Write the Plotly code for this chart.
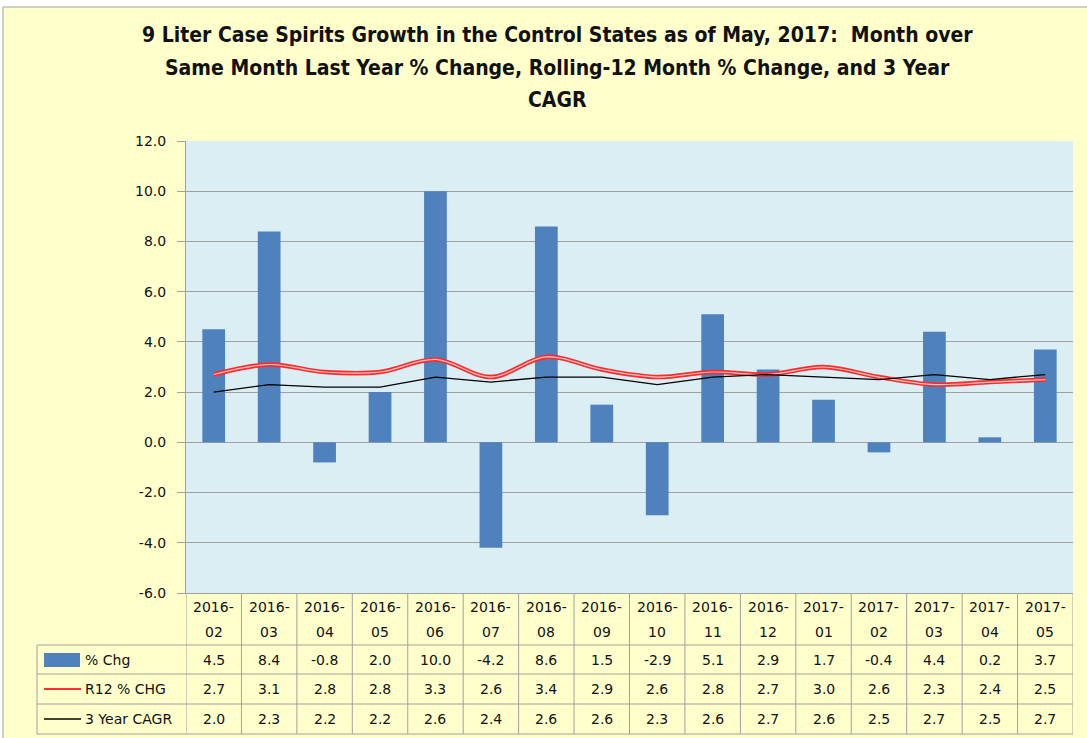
import plotly.graph_objects as go

# ---- data ----
months = ["2016-02", "2016-03", "2016-04", "2016-05", "2016-06", "2016-07", "2016-08", "2016-09",
          "2016-10", "2016-11", "2016-12", "2017-01", "2017-02", "2017-03", "2017-04", "2017-05"]
pct_chg = [4.5, 8.4, -0.8, 2.0, 10.0, -4.2, 8.6, 1.5, -2.9, 5.1, 2.9, 1.7, -0.4, 4.4, 0.2, 3.7]
r12_chg = [2.7, 3.1, 2.8, 2.8, 3.3, 2.6, 3.4, 2.9, 2.6, 2.8, 2.7, 3.0, 2.6, 2.3, 2.4, 2.5]
cagr_3y = [2.0, 2.3, 2.2, 2.2, 2.6, 2.4, 2.6, 2.6, 2.3, 2.6, 2.7, 2.6, 2.5, 2.7, 2.5, 2.7]
y_ticks = [-6.0, -4.0, -2.0, 0.0, 2.0, 4.0, 6.0, 8.0, 10.0, 12.0]
y_tick_labels = ["-6.0", "-4.0", "-2.0", "0.0", "2.0", "4.0", "6.0", "8.0", "10.0", "12.0"]
series_names = ["% Chg", "R12 % CHG", "3 Year CAGR"]
title_lines = ["9 Liter Case Spirits Growth in the Control States as of May, 2017:  Month over",
               "Same Month Last Year % Change, Rolling-12 Month % Change, and 3 Year",
               "CAGR"]

W, H = 1087, 738
def px(x):
    return x / W
def py(y):
    return 1 - y / H

BAR = "#4F81BD"
GRID = "#A0A0A0"
YEL = "#FFFFCC"
PLOTBG = "#DBEEF4"
TXT = "#111111"
FONT = "DejaVu Sans, Verdana, sans-serif"
TFONT = "Liberation Sans Narrow, DejaVu Sans Condensed, Arial Narrow, sans-serif"

fig = go.Figure()
fig.add_trace(go.Bar(x=months, y=pct_chg, marker_color=BAR, marker_line_width=0, name=series_names[0]))
fig.add_trace(go.Scatter(x=months, y=r12_chg, mode="lines", line=dict(color="#FF2A2A", width=4.5, shape="spline", smoothing=1), name=series_names[1]))
fig.add_trace(go.Scatter(x=months, y=r12_chg, mode="lines", line=dict(color="#FFC8C8", width=1.2, shape="spline", smoothing=1), showlegend=False))
fig.add_trace(go.Scatter(x=months, y=cagr_3y, mode="lines", line=dict(color="#000000", width=1.3), name=series_names[2]))

x_left, x_right = 186, 1073
y_top, y_bot = 141, 593

fig.update_layout(
    template="none",
    width=W, height=H, autosize=False,
    margin=dict(l=0, r=0, t=0, b=0, pad=0),
    paper_bgcolor=YEL, plot_bgcolor=PLOTBG,
    showlegend=False, bargap=0.59,
    font=dict(family=FONT, size=14, color=TXT),
    xaxis=dict(type="category", domain=[px(x_left), px(x_right)], range=[-0.5, len(months) - 0.5],
               showticklabels=False, ticks="", showgrid=False, zeroline=False, automargin=False,
               showline=True, linecolor=GRID, linewidth=1, fixedrange=True),
    yaxis=dict(domain=[py(y_bot), py(y_top)], range=[-6, 12],
               tickmode="array", tickvals=y_ticks, ticktext=y_tick_labels, automargin=False,
               showgrid=True, gridcolor=GRID, gridwidth=1, zeroline=False,
               showline=True, linecolor=GRID, linewidth=1,
               ticks="outside", ticklen=8, tickcolor=GRID, tickwidth=1, ticklabelstandoff=8,
               tickfont=dict(family=FONT, size=14, color=TXT), fixedrange=True),
)

shapes = []
anns = []

# white margins and chart-area border
shapes.append(dict(type="rect", xref="paper", yref="paper", x0=0, x1=1, y0=py(7), y1=1, fillcolor="white", line_width=0))
shapes.append(dict(type="rect", xref="paper", yref="paper", x0=0, x1=px(3), y0=0, y1=1, fillcolor="white", line_width=0))
shapes.append(dict(type="line", xref="paper", yref="paper", x0=px(3), x1=1, y0=py(7), y1=py(7), line=dict(color="#A0A0A0", width=1)))
shapes.append(dict(type="line", xref="paper", yref="paper", x0=px(3), x1=px(3), y0=py(7), y1=0, line=dict(color="#A0A0A0", width=1)))

# title
for i, (t, yy) in enumerate(zip(title_lines, [35, 68, 100])):
    anns.append(dict(text="<b>" + t + "</b>", xref="paper", yref="paper", x=px(557), y=py(yy),
                     xanchor="center", yanchor="middle", showarrow=False,
                     font=dict(family=TFONT, size=21, color=TXT)))

# data table
tbl_left = 37
row_lines = [645, 674, 704, 734]
hdr_top = 593
for i in range(len(months) + 1):
    shapes.append(dict(type="line", xref="x", yref="paper", x0=i - 0.5, x1=i - 0.5,
                       y0=py(hdr_top), y1=py(row_lines[-1]), line=dict(color=GRID, width=1)))
for yl in row_lines:
    shapes.append(dict(type="line", xref="paper", yref="paper", x0=px(tbl_left), x1=px(x_right),
                       y0=py(yl), y1=py(yl), line=dict(color=GRID, width=1)))
shapes.append(dict(type="line", xref="paper", yref="paper", x0=px(tbl_left), x1=px(tbl_left),
                   y0=py(row_lines[0]), y1=py(row_lines[-1]), line=dict(color=GRID, width=1)))

for m in months:
    a, b = m.split("-")
    anns.append(dict(text=a + "-", xref="x", yref="paper", x=m, y=py(607), showarrow=False,
                     xanchor="center", yanchor="middle", font=dict(family=FONT, size=14, color=TXT)))
    anns.append(dict(text=b, xref="x", yref="paper", x=m, y=py(632), showarrow=False,
                     xanchor="center", yanchor="middle", font=dict(family=FONT, size=14, color=TXT)))

row_centers = [660, 689, 719]
for vals, yc in zip([pct_chg, r12_chg, cagr_3y], row_centers):
    for m, v in zip(months, vals):
        anns.append(dict(text=f"{v:.1f}", xref="x", yref="paper", x=m, y=py(yc), showarrow=False,
                         xanchor="center", yanchor="middle", font=dict(family=FONT, size=14, color=TXT)))

# legend keys in table
shapes.append(dict(type="rect", xref="paper", yref="paper", x0=px(44), x1=px(80), y0=py(667), y1=py(653),
                   fillcolor=BAR, line_width=0))
shapes.append(dict(type="line", xref="paper", yref="paper", x0=px(44), x1=px(81), y0=py(689), y1=py(689),
                   line=dict(color="#FF3030", width=2)))
shapes.append(dict(type="line", xref="paper", yref="paper", x0=px(44), x1=px(81), y0=py(719), y1=py(719),
                   line=dict(color="#000000", width=1.3)))
for name, yc in zip(series_names, row_centers):
    anns.append(dict(text=name, xref="paper", yref="paper", x=px(83), y=py(yc), showarrow=False,
                     xanchor="left", yanchor="middle", font=dict(family=FONT, size=14, color=TXT)))

fig.update_layout(shapes=shapes, annotations=anns)
fig.write_html("out.html", config={"displayModeBar": False},
               post_script="document.body.style.margin='0';")
